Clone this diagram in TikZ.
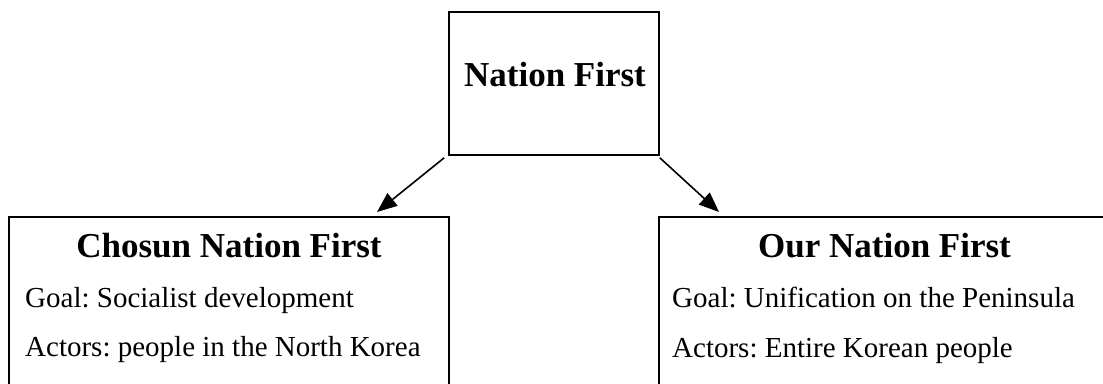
\documentclass[tikz,border=0pt]{standalone}
\usepackage{fontspec}
\setmainfont{Liberation Serif}
\usetikzlibrary{arrows.meta}
\frenchspacing
\begin{document}
\begin{tikzpicture}[x=1pt,y=1pt,
  boxshape/.style={draw=black,line width=1.6pt,rectangle,inner sep=0pt},
  titletext/.style={inner sep=0pt,anchor=base,font=\fontsize{35}{42}\selectfont\bfseries},
  bodytext/.style={inner sep=0pt,anchor=base west,font=\fontsize{29}{35}\selectfont},
  arr/.style={line width=1.6pt,-{Triangle[length=20pt,width=16pt]}}]
\useasboundingbox (0,0) rectangle (1103,383);
\clip (0,0) rectangle (1103,383);
% boxes
\node[boxshape,minimum width=210pt,minimum height=143pt] (top) at (554,299.5) {};
\node[boxshape,minimum width=440pt,minimum height=196pt] (left) at (229,68) {};
\node[boxshape,minimum width=451pt,minimum height=196pt] (right) at (884.5,68) {};
% texts
\node[titletext] (toptitle) at (555,296) {Nation First};
\node[titletext] (lefttitle) at (229,125) {Chosun Nation First};
\node[bodytext] (leftgoal) at (25,75) {Goal: Socialist development};
\node[bodytext] (leftact) at (25,27) {Actors: people in the North Korea};
\node[titletext] (righttitle) at (884.5,125) {Our Nation First};
\node[bodytext] (rightgoal) at (672,75) {Goal: Unification on the Peninsula};
\node[bodytext] (rightact) at (672,26) {Actors: Entire Korean people};
% arrows
\coordinate (lefttip) at (377,171);
\coordinate (righttip) at (719,171);
\draw[arr] ([xshift=-4pt,yshift=-2pt]top.south west) -- (lefttip);
\draw[arr] ([yshift=-2pt]top.south east) -- (righttip);
\end{tikzpicture}
\end{document}
